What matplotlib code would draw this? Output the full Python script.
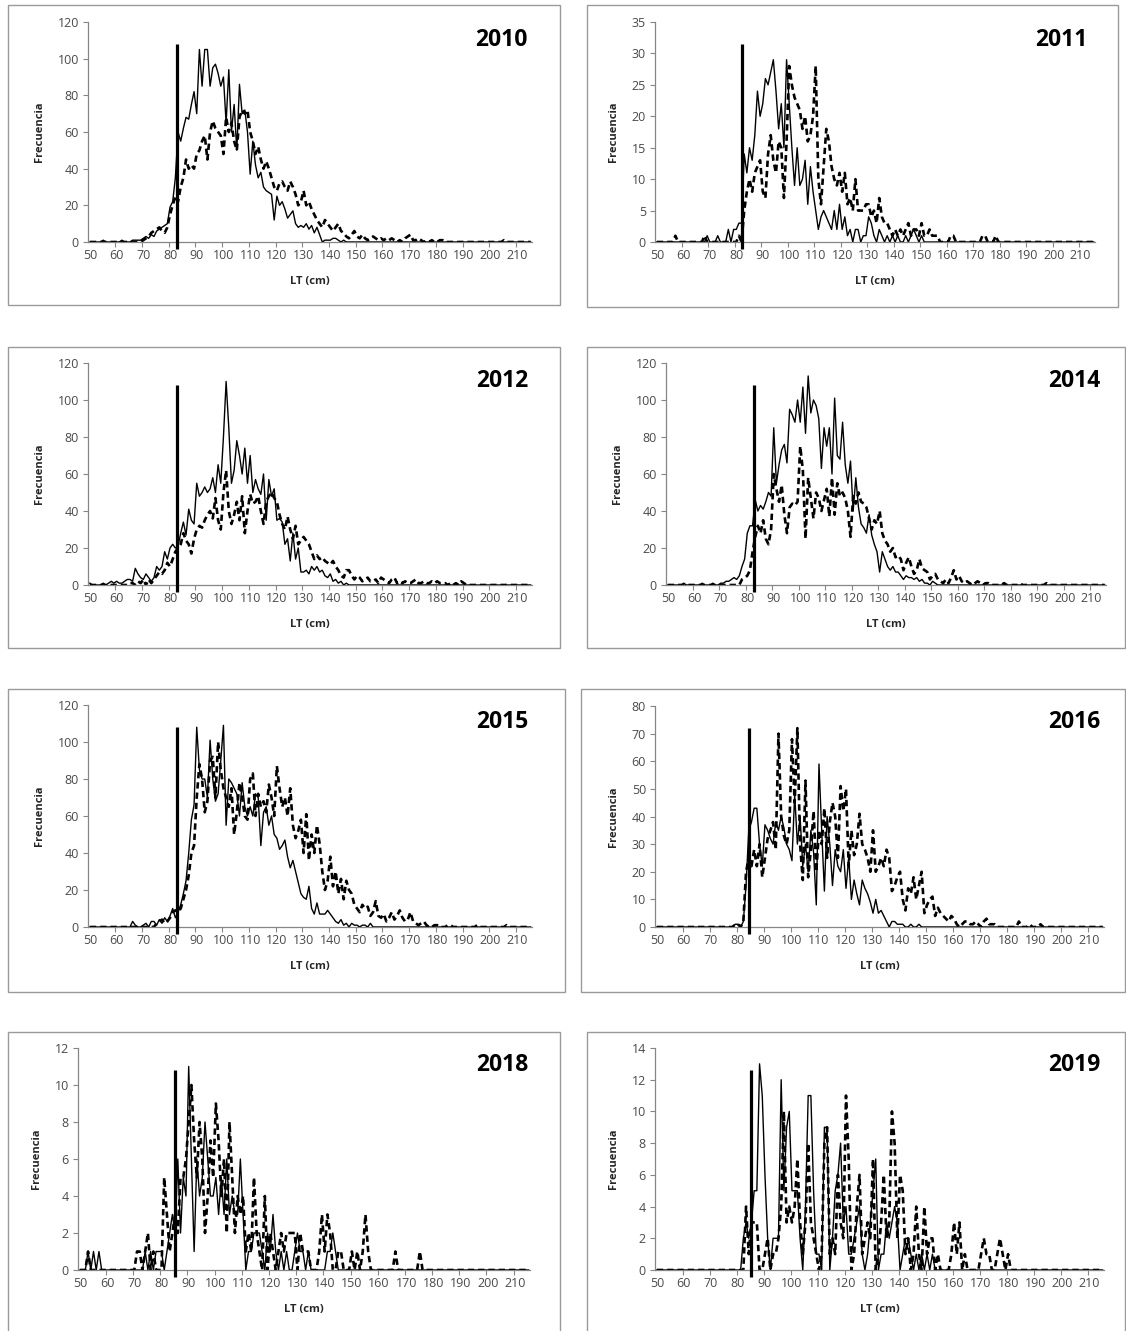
"""
Length-frequency distributions (LT, cm) by year, 2010-2019.
Solid and dashed series per panel plus a vertical reference line.

Saves: out.png
"""

import matplotlib
matplotlib.use("Agg")
import matplotlib.pyplot as plt
import numpy as np
from matplotlib.patches import Rectangle

plt.rcParams["font.family"] = ["Open Sans", "DejaVu Sans"]

LT = np.arange(50, 216)

# ---------------------------------------------------------------------------
# Data: (first LT, frequencies from that LT on); values outside are 0
# ---------------------------------------------------------------------------

sol_2010 = (50, [0, 0, 0, 0, 0, 1, 0, 0, 0, 0, 0, 0, 1, 0, 0, 0,
                 1, 1, 1, 1, 2, 3, 2, 4, 3, 6, 7, 8, 9, 10, 19,
                 22, 35, 60, 55, 62, 68, 67, 75, 82, 70,
                 105, 85, 105, 105, 85, 95, 97, 92, 85, 90,
                 65, 94, 60, 75, 50, 86, 70, 72, 60, 37,
                 55, 42, 35, 38, 30, 28, 27, 26, 12, 25,
                 20, 22, 18, 13, 15, 17, 10, 8, 9, 8,
                 10, 7, 9, 5, 8, 4, 0, 1, 1, 1,
                 2, 2, 1, 0, 1, 0])
das_2010 = (70, [1, 2, 3, 5, 6, 7, 8, 6, 5, 8, 15,
                 20, 25, 22, 30, 35, 45, 40, 42, 40, 48,
                 50, 55, 58, 45, 60, 66, 62, 60, 58, 48,
                 68, 60, 65, 55, 50, 68, 72, 70, 72, 60,
                 55, 48, 52, 45, 40, 44, 40, 35, 30, 28,
                 32, 33, 30, 28, 33, 30, 26, 20, 22, 28,
                 20, 22, 18, 15, 12, 10, 8, 12, 10, 8,
                 6, 8, 10, 6, 5, 3, 2, 4, 6, 3,
                 2, 4, 2, 1, 2, 3, 2, 1, 2, 1,
                 2, 1, 2, 1, 0, 1, 0, 2, 3, 4,
                 1, 1, 2, 1, 0, 1, 0, 1, 0, 0, 1, 1,
                 0, 0, 0, 0, 0, 0, 0, 0, 0, 0, 0, 0, 0, 0, 0, 0, 0, 0, 0, 0, 0, 0, 1])

sol_2011 = (68, [0, 1,
                 0, 0, 0, 1, 0, 0, 0, 2, 0, 2, 2, 3, 3,
                 14, 11, 15, 13, 17, 24, 20, 22, 26, 25,
                 27, 29, 24, 18, 22, 15, 29, 22, 15, 9,
                 15, 9, 10, 13, 6, 12, 8, 5, 2, 4,
                 5, 4, 3, 2, 5, 2, 6, 2, 4, 1,
                 2, 0, 2, 2, 0, 1, 1, 4, 3, 1,
                 0, 2, 1, 0, 1, 0, 1, 0, 1, 0, 0, 1, 0, 1, 2, 1, 0, 1])
das_2011 = (57, [1, 0, 0, 0, 0, 0, 0, 0, 0, 0, 0, 1,
                 0, 0, 0, 0, 0, 0, 0, 0, 0, 0, 0, 0, 1, 0,
                 5, 8, 10, 8, 11, 12, 13, 8, 7, 14,
                 17, 13, 11, 16, 15, 7, 16, 28, 25, 23,
                 22, 21, 18, 20, 16, 17, 20, 28, 10, 6,
                 12, 18, 16, 12, 10, 9, 11, 8, 11, 6,
                 7, 5, 10, 5, 5, 5, 6, 6, 4, 5,
                 3, 7, 4, 3, 3, 2, 1, 2, 1, 2,
                 1, 2, 3, 1, 2, 2, 1, 3, 1, 1,
                 2, 1, 1, 1, 0, 0, 0, 0, 1, 1,
                 0, 0, 0, 0, 0, 0, 0, 0, 0, 0, 1, 1, 0, 0, 0, 1])

sol_2012 = (50, [1, 0, 0, 0, 0, 1, 0, 1, 2, 1,
                 2, 1, 1, 2, 3, 3, 2, 9, 6, 4,
                 3, 6, 4, 2, 4, 10, 8, 10, 18, 14,
                 20, 22, 20, 21, 28, 34, 27, 41, 35, 33,
                 55, 48, 50, 53, 50, 52, 58, 50, 65, 55,
                 80, 110, 85, 55, 62, 78, 70, 60, 74, 55,
                 70, 50, 57, 52, 49, 60, 35, 57, 48, 52,
                 35, 36, 34, 22, 25, 13, 28, 14, 20, 7,
                 7, 8, 6, 10, 8, 10, 7, 8, 5, 4,
                 6, 2, 3, 1, 2, 0, 1])
das_2012 = (65, [1, 1, 0, 2, 1,
                 3, 0, 3, 1, 3, 5, 7, 6, 8, 12,
                 10, 14, 18, 20, 22, 28, 24, 22, 17, 25,
                 30, 32, 31, 35, 38, 40, 36, 47, 35, 30,
                 50, 62, 40, 33, 38, 45, 35, 48, 28, 40,
                 49, 44, 45, 48, 40, 33, 45, 48, 50, 47,
                 45, 38, 33, 30, 37, 30, 25, 32, 22, 24,
                 26, 24, 22, 18, 14, 16, 14, 15, 13, 12,
                 11, 13, 10, 8, 5, 4, 8, 8, 5, 3,
                 5, 4, 2, 3, 4, 2, 2, 3, 1, 4,
                 3, 2, 1, 3, 4, 1, 2, 1, 2, 1,
                 1, 2, 3, 1, 1, 2, 1, 1, 2, 1,
                 2, 1, 1, 1, 0, 1, 0, 1, 0, 2, 1])

sol_2014 = (56, [1, 0, 0, 0, 0, 0, 0, 1, 0, 0, 0, 1, 0, 0,
                 1, 1, 2, 2, 3, 4, 3, 5, 10, 14,
                 28, 32, 32, 46, 40, 43, 41, 45, 50, 48,
                 85, 55, 65, 73, 76, 66, 95, 92, 88, 100,
                 88, 107, 82, 113, 93, 100, 97, 90, 63, 85,
                 75, 85, 60, 101, 70, 68, 88, 65, 55, 67,
                 40, 58, 42, 33, 31, 28, 38, 27, 22, 18,
                 7, 18, 14, 10, 8, 10, 7, 7, 5, 3,
                 5, 4, 4, 3, 4, 2, 3, 1, 1, 0, 2, 1])
das_2014 = (78, [3, 4,
                 5, 8, 18, 26, 32, 28, 35, 25, 22, 30,
                 60, 52, 45, 54, 38, 28, 42, 44, 43, 45,
                 75, 62, 25, 58, 47, 36, 50, 47, 40, 46,
                 52, 37, 58, 38, 55, 48, 50, 47, 40, 26,
                 48, 44, 50, 45, 44, 42, 36, 30, 35, 33,
                 40, 28, 24, 22, 18, 20, 15, 16, 14, 8,
                 12, 15, 10, 6, 8, 14, 9, 8, 7, 3,
                 5, 6, 3, 2, 1, 3, 1, 4, 8, 3,
                 5, 2, 1, 2, 1, 0, 1, 2, 1, 0,
                 1, 1, 0, 0, 0, 0, 0, 1,
                 0, 0, 0, 0, 0, 1, 0, 0, 0, 0, 0, 0, 0, 0, 0, 1])

sol_2015 = (66, [3, 1, 0, 0,
                 1, 2, 0, 3, 3, 1, 4, 2, 5, 3,
                 6, 10, 5, 8, 12, 18, 25, 40, 58, 66,
                 108, 85, 80, 80, 70, 101, 80, 68, 72, 90,
                 109, 55, 80, 78, 75, 72, 60, 78, 65, 60,
                 65, 60, 72, 70, 44, 62, 65, 55, 60, 50,
                 48, 42, 44, 47, 38, 32, 36, 30, 24, 18,
                 16, 15, 22, 10, 7, 13, 7, 7, 7, 9,
                 7, 5, 3, 2, 4, 1, 2, 0, 2, 1, 1, 0, 1, 1, 0, 2])
das_2015 = (75, [2, 3, 4, 2, 3,
                 5, 8, 9, 8, 10, 15, 20, 28, 40, 44,
                 70, 88, 80, 62, 68, 90, 92, 70, 100, 85,
                 75, 70, 65, 75, 50, 62, 78, 70, 60, 58,
                 80, 83, 60, 72, 65, 68, 62, 77, 70, 60,
                 87, 75, 65, 70, 60, 75, 55, 48, 52, 58,
                 40, 61, 36, 50, 40, 55, 45, 30, 20, 25,
                 38, 22, 30, 18, 26, 15, 25, 20, 18, 12,
                 10, 8, 12, 10, 11, 6, 8, 14, 6, 5,
                 7, 3, 5, 8, 4, 6, 9, 5, 3, 4,
                 8, 3, 2, 1, 2, 3, 1, 0, 0, 1, 1,
                 0, 0, 0, 1, 1, 0, 0, 0, 0, 0, 0, 0, 0, 0, 1,
                 0, 0, 0, 0, 0, 0, 0, 0, 0, 0, 1])

sol_2016 = (79, [1, 1, 0, 2,
                 15, 35, 38, 43, 43, 30, 22, 37, 35, 32,
                 30, 38, 35, 40, 36, 30, 28, 24, 48, 30,
                 40, 22, 30, 20, 35, 27, 8, 59, 35, 13,
                 40, 30, 15, 28, 22, 20, 28, 14, 25, 10,
                 17, 12, 8, 17, 14, 12, 9, 5, 10, 5,
                 6, 4, 2, 0, 2, 2, 1, 1, 1, 0, 0, 1, 0, 0, 1])
das_2016 = (79, [1, 1, 0, 2,
                 20, 25, 22, 28, 22, 30, 18, 25, 32, 35,
                 38, 28, 70, 40, 33, 30, 35, 68, 45, 72,
                 30, 17, 53, 18, 28, 42, 20, 35, 30, 43,
                 25, 38, 45, 40, 25, 51, 42, 50, 22, 35,
                 26, 30, 41, 30, 28, 25, 20, 35, 20, 22,
                 25, 22, 28, 25, 13, 15, 18, 20, 10, 6,
                 14, 12, 18, 10, 15, 20, 5, 8, 10, 11,
                 4, 7, 5, 4, 3, 2, 4, 3, 1, 0,
                 1, 2, 2, 1, 1, 2, 1, 0, 2, 3, 1, 1, 1, 0,
                 0, 0, 0, 0, 0, 0, 0, 2, 0, 0, 0, 1, 0, 0, 0, 1])

sol_2018 = (52, [0, 1, 0, 1, 0, 1, 0,
                 0, 0, 0, 0, 0, 0, 0, 0, 0, 0, 0, 0, 0, 0, 0,
                 1, 0, 1, 0, 1, 1, 1, 0, 1, 2,
                 3, 2, 6, 2, 5, 4, 11, 6, 1, 6,
                 4, 5, 8, 6, 4, 4, 5, 3, 5, 3,
                 6, 3, 4, 3, 3, 6, 3, 0, 1, 1,
                 2, 2, 2, 1, 0, 2, 1, 3, 1, 0,
                 1, 0, 1, 0, 0, 1, 2, 1, 1, 0,
                 1, 0, 0, 0, 0, 0, 0, 1, 1, 2, 1, 0, 0])
das_2018 = (52, [0, 1, 0,
                 0, 0, 0, 0, 0, 0, 0, 0, 0, 0, 0, 0, 0, 0, 0, 0,
                 1, 1, 0, 1, 2, 0, 1, 0, 0, 0,
                 5, 3, 1, 2, 3, 2, 5, 5, 6, 8,
                 10, 7, 5, 8, 6, 2, 4, 7, 5, 9,
                 7, 4, 6, 2, 8, 5, 2, 4, 3, 4,
                 1, 2, 1, 5, 2, 1, 0, 4, 0, 2,
                 1, 0, 1, 2, 1, 2, 2, 2, 2, 0,
                 2, 1, 1, 1, 0, 0, 0, 1, 3, 1,
                 3, 2, 0, 0, 1, 1, 0, 0, 0, 1,
                 0, 1, 0, 1, 3, 1, 0, 0, 0, 0,
                 0, 0, 0, 0, 0, 1, 0, 0, 0, 0, 0, 0, 0, 0, 1, 0])

sol_2019 = (82, [2, 3, 2, 3, 5, 5, 13, 11, 6, 2,
                 0, 2, 2, 2, 12, 5, 9, 10, 5, 5,
                 5, 2, 0, 4, 11, 11, 5, 1, 1, 0,
                 9, 9, 0, 2, 5, 6, 8, 3, 4, 1,
                 1, 2, 3, 4, 1, 0, 1, 3, 5, 7,
                 0, 1, 1, 3, 2, 3, 4, 3, 0, 1,
                 2, 2, 1, 0, 1, 0, 1, 0, 1, 0, 1])
das_2019 = (82, [0, 4, 1, 3, 3, 3, 0, 0, 1, 2,
                 0, 1, 1, 2, 4, 10, 3, 4, 3, 4,
                 7, 3, 1, 3, 8, 3, 2, 1, 0, 1,
                 8, 9, 1, 2, 1, 6, 3, 2, 11, 7,
                 0, 1, 4, 6, 1, 2, 3, 2, 7, 0,
                 1, 3, 6, 2, 3, 10, 8, 2, 6, 5,
                 1, 2, 0, 1, 4, 1, 0, 4, 1, 2,
                 2, 0, 1, 0, 0, 0, 0, 1, 3, 1,
                 3, 0, 1, 0, 0, 0, 0, 0, 1, 2,
                 1, 1, 0, 0, 1, 2, 1, 0, 1, 0])

years = ["2010", "2011", "2012", "2014", "2015", "2016", "2018", "2019"]
solid = [sol_2010, sol_2011, sol_2012, sol_2014, sol_2015, sol_2016, sol_2018, sol_2019]
dashed = [das_2010, das_2011, das_2012, das_2014, das_2015, das_2016, das_2018, das_2019]
y_max = [120, 35, 120, 120, 120, 80, 12, 14]
y_step = [20, 5, 20, 20, 20, 10, 2, 2]
cut_lt = [82.5, 82, 82.5, 82.5, 82.5, 84.2, 84.8, 84.7]
cut_top = [108, 31.5, 108, 108, 108, 72, 10.8, 12.6]

# ---------------------------------------------------------------------------
# Layout in pixels (fig 1126 x 1331): axes (left, top, right, bottom),
# frame (left, top, right, bottom), year label (right x, centre y)
# ---------------------------------------------------------------------------
W, H = 1126, 1331
AX_PX = [
    (88, 22, 532, 242), (655, 22, 1095, 242),
    (88, 363, 532, 585), (666, 363, 1106, 585),
    (88, 705, 532, 927), (655, 706, 1104, 927),
    (78, 1048, 530, 1270), (655, 1048, 1104, 1270),
]
BOX_PX = [
    (8, 5, 560, 305), (587, 5, 1118, 307),
    (8, 347, 560, 648), (587, 347, 1125, 648),
    (8, 689, 565, 992), (581, 689, 1125, 992),
    (8, 1032, 560, 1335), (587, 1032, 1125, 1335),
]
YEAR_PX = [
    (528, 40), (1088, 40), (528, 381), (1100, 381),
    (528, 722), (1100, 722), (528, 1065), (1100, 1065),
]

AXIS_GREY = "#868686"
TICK_TEXT = "#4a4a4a"
LABEL_TEXT = "#262626"


def full_series(series):
    start, vals = series
    out = np.zeros(len(LT))
    i0 = start - LT[0]
    out[i0:i0 + len(vals)] = vals
    return out


def main():
    fig = plt.figure(figsize=(W / 100, H / 100), dpi=100)

    for k, year in enumerate(years):
        bl, bt, br, bb = BOX_PX[k]
        fig.patches.append(Rectangle((bl / W, 1 - bb / H), (br - bl) / W, (bb - bt) / H,
                                     transform=fig.transFigure, fill=False,
                                     edgecolor="#9a9a9a", linewidth=1.0))

        l, t, r, b = AX_PX[k]
        ax = fig.add_axes([l / W, 1 - b / H, (r - l) / W, (b - t) / H])
        ax.set_facecolor("none")

        ax.plot(LT, full_series(solid[k]), color="black", lw=1.0, zorder=3)
        ax.plot(LT, full_series(dashed[k]), color="black", lw=1.9,
                ls=(0, (2.4, 1.5)), zorder=2)
        ym = y_max[k]
        ax.plot([cut_lt[k], cut_lt[k]], [-0.03 * ym, cut_top[k]], color="black",
                lw=2.3, solid_capstyle="butt", clip_on=False, zorder=4)

        ax.set_xlim(49.3, 215.5)
        ax.set_ylim(0, ym)
        ax.set_xticks(np.arange(50, 211, 10))
        # category-boundary tick marks between the labels
        ax.set_xticks(np.arange(59.5, 215, 10), minor=True)
        ax.set_yticks(np.arange(0, ym + y_step[k] / 2, y_step[k]))

        for side in ("top", "right"):
            ax.spines[side].set_visible(False)
        for side in ("left", "bottom"):
            ax.spines[side].set_color(AXIS_GREY)
            ax.spines[side].set_linewidth(0.9)

        ax.tick_params(axis="x", which="major", length=0, pad=5,
                       labelsize=9, labelcolor=TICK_TEXT)
        ax.tick_params(axis="x", which="minor", length=3.5, width=0.8,
                       color=AXIS_GREY)
        ax.tick_params(axis="y", length=3.5, width=0.8, color=AXIS_GREY, pad=3,
                       labelsize=9, labelcolor=TICK_TEXT)

        ax.set_xlabel("LT (cm)", fontsize=8, fontweight="bold", color=LABEL_TEXT,
                      labelpad=10)
        ax.set_ylabel("Frecuencia", fontsize=8, fontweight="bold", color=LABEL_TEXT,
                      labelpad=9)

        xr, yc = YEAR_PX[k]
        fig.text(xr / W, 1 - yc / H, year, ha="right", va="center",
                 fontsize=16.5, fontweight="bold", color="black")

    fig.savefig("out.png", dpi=100)


if __name__ == "__main__":
    main()
